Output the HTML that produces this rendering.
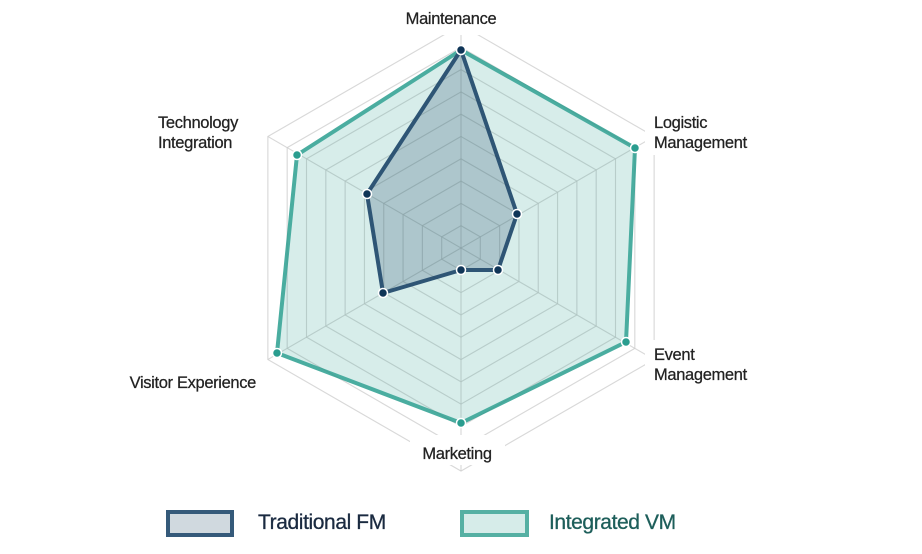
<!DOCTYPE html>
<html><head><meta charset="utf-8"><style>
body{margin:0;background:#fff;width:922px;height:549px;overflow:hidden}
svg text{font-family:"Liberation Sans",sans-serif;}
</style></head><body>
<svg id="s" width="922" height="549" xmlns="http://www.w3.org/2000/svg"></svg>
<script>
var cx=461,cy=248,R=223,N=10;
var ang=[-90,-30,30,90,150,210];
function pt(r,i){var a=ang[i]*Math.PI/180;return [cx+r*Math.cos(a),cy+r*Math.sin(a)];}
var h='';
for(var k=1;k<=N;k++){var r=R*k/N;var p=[];for(var i=0;i<6;i++)p.push(pt(r,i).join(','));
h+='<polygon points="'+p.join(' ')+'" fill="none" stroke="#e4e4e4" stroke-width="1.2"/>';}
for(var i=0;i<6;i++){var q=pt(R,i);h+='<line x1="'+cx+'" y1="'+cy+'" x2="'+q[0]+'" y2="'+q[1]+'" stroke="#e4e4e4" stroke-width="1.2"/>';}
var integ=[[461,50],[635,148],[626,342],[461,423],[277,353],[297,155]];
var trad=[[461,50],[517,214],[498,270],[461,270],[383,293],[367,194]];
function poly(a){return a.map(function(p){return p.join(',')}).join(' ');}
h+='<polygon points="'+poly(integ)+'" fill="rgba(74,173,160,0.22)" stroke="#4aada0" stroke-width="4" stroke-linejoin="round"/>';
h+='<polygon points="'+poly(trad)+'" fill="rgba(46,85,117,0.25)" stroke="#2e5575" stroke-width="4" stroke-linejoin="round"/>';
for(var k=1;k<=N;k++){var r=R*k/N;var p=[];for(var i=0;i<6;i++)p.push(pt(r,i).join(','));
h+='<polygon points="'+p.join(' ')+'" fill="none" stroke="rgba(0,0,0,0.05)" stroke-width="1"/>';}
for(var i=0;i<6;i++){var q=pt(R,i);h+='<line x1="'+cx+'" y1="'+cy+'" x2="'+q[0]+'" y2="'+q[1]+'" stroke="rgba(0,0,0,0.05)" stroke-width="1"/>';}
integ.forEach(function(p){h+='<circle cx="'+p[0]+'" cy="'+p[1]+'" r="4.5" fill="#2a9d8f" stroke="#fff" stroke-width="1.5"/>';});
trad.forEach(function(p){h+='<circle cx="'+p[0]+'" cy="'+p[1]+'" r="4.5" fill="#0f3557" stroke="#fff" stroke-width="1.5"/>';});
h+='<rect x="395" y="5" width="115" height="30" fill="#fff"/>';
h+='<rect x="645" y="110" width="115" height="45" fill="#fff"/>';
h+='<rect x="645" y="340" width="115" height="45" fill="#fff"/>';
h+='<rect x="410" y="435" width="95" height="30" fill="#fff"/>';
h+='<rect x="150" y="110" width="115" height="40" fill="#fff"/>';
h+='<rect x="112" y="368" width="152" height="25" fill="#fff"/>';
var ts='font-size="16.5" fill="#222" stroke="#222" stroke-width="0.25" letter-spacing="-0.35"';
h+='<text x="451" y="24" '+ts+' font-size="14.5" text-anchor="middle">Maintenance</text>';
h+='<text x="654" y="128" '+ts+'>Logistic</text><text x="654" y="148" '+ts+'>Management</text>';
h+='<text x="654" y="360" '+ts+'>Event</text><text x="654" y="380" '+ts+'>Management</text>';
h+='<text x="457" y="459" '+ts+' text-anchor="middle">Marketing</text>';
h+='<text x="158" y="128" '+ts+'>Technology</text><text x="158" y="148" '+ts+'>Integration</text>';
h+='<text x="256" y="388" '+ts+' text-anchor="end">Visitor Experience</text>';
h+='<rect x="168" y="512" width="64" height="23" fill="#d0d9df" stroke="#355a7a" stroke-width="4"/>';
h+='<text x="258" y="529" font-size="21" fill="#1a2a40" stroke="#1a2a40" stroke-width="0.3" letter-spacing="-0.4">Traditional FM</text>';
h+='<rect x="462" y="512" width="65" height="23" fill="#d6ece9" stroke="#55b0a3" stroke-width="4"/>';
h+='<text x="549" y="529" font-size="21" fill="#1d5e5a" stroke="#1d5e5a" stroke-width="0.3" letter-spacing="-0.4">Integrated VM</text>';
document.getElementById('s').innerHTML=h;
</script>
</body></html>
